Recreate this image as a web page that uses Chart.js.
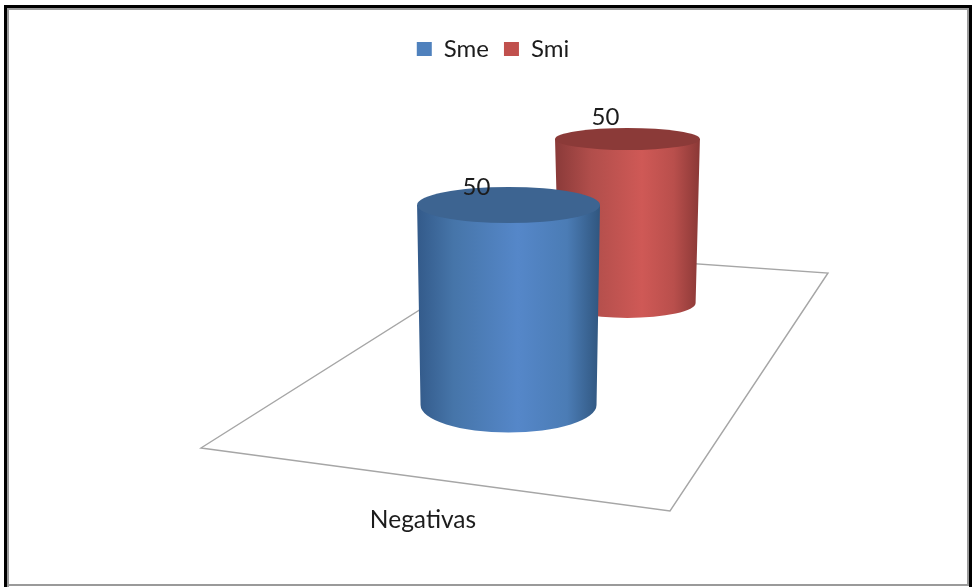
<!DOCTYPE html>
<html>
<head>
<meta charset="utf-8">
<title>Negativas</title>
<script src="https://cdn.jsdelivr.net/npm/chart.js@4/dist/chart.umd.min.js"></script>
<style>
    html, body { margin: 0; padding: 0; background: #fff; }
    #wrap { position: relative; width: 974px; height: 587px; }
</style>
</head>
<body>
<div id="wrap"><canvas id="cylinderChart" width="974" height="587"></canvas></div>
<script>
const categories = ['Negativas'];
const seriesNames = ['Sme', 'Smi'];
const smeValues = [50];
const smiValues = [50];

const FONT = 'Lato, "Open Sans", sans-serif';
const TEXT_COLOR = '#1c1c1c';

// Per-series look of the cylinders: the second one stands further back on the floor
const cylinderLooks = [
    {
        shiftX: 107, shiftY: 0, heightScale: 1,
        topRx: 1, bottomRx: 0.962, topRy: 18, bottomRy: 27.5,
        top: '#3d6491',
        side: [[0, '#335a8a'], [0.2, '#4675a9'], [0.55, '#5587c9'], [0.82, '#4b7cb5'], [1, '#30567f']],
        labelDx: -32, labelDy: -18
    },
    {
        shiftX: 43, shiftY: -102, heightScale: 0.82,
        topRx: 0.792, bottomRx: 0.745, topRy: 11, bottomRy: 15,
        top: '#8b3a38',
        side: [[0, '#8a3a39'], [0.25, '#b14e4b'], [0.6, '#cf5956'], [0.82, '#b94f4c'], [1, '#8a3836']],
        labelDx: -22, labelDy: -22
    }
];

// The flat floor the cylinders stand on
const floorCorners = [[201, 448], [670, 511], [828, 273], [513, 251]];

function cylinderGeometry(chart, datasetIndex) {
    const bar = chart.getDatasetMeta(datasetIndex).data[0];
    const look = cylinderLooks[datasetIndex];
    const cx = bar.x + look.shiftX;
    const baseY = bar.base + look.shiftY;
    const topY = baseY - (bar.base - bar.y) * look.heightScale;
    return {
        cx, baseY, topY, look,
        topRx: bar.width / 2 * look.topRx,
        bottomRx: bar.width / 2 * look.bottomRx
    };
}

const cylinderPlugin = {
    id: 'cylinders',

    beforeDraw(chart) {
        // Window-style frame around the whole chart
        const ctx = chart.ctx;
        ctx.save();
        ctx.fillStyle = '#000';
        ctx.fillRect(4, 5, 3, 582);
        ctx.fillRect(4, 5, 968, 3);
        ctx.fillRect(969, 5, 3, 582);
        ctx.fillStyle = '#9a9a9a';
        ctx.fillRect(7, 8, 2, 579);
        ctx.fillRect(7, 8, 962, 2);
        ctx.fillRect(967, 8, 2, 578);
        ctx.fillRect(7, 584, 962, 2);
        ctx.restore();
    },

    beforeDatasetsDraw(chart) {
        const ctx = chart.ctx;
        ctx.save();
        ctx.strokeStyle = '#a6a6a6';
        ctx.lineWidth = 1.4;
        ctx.beginPath();
        floorCorners.forEach(([x, y], i) => (i ? ctx.lineTo(x, y) : ctx.moveTo(x, y)));
        ctx.closePath();
        ctx.stroke();
        ctx.restore();
    },

    // Replaces the flat bar with a shaded cylinder
    beforeDatasetDraw(chart, args) {
        const ctx = chart.ctx;
        const g = cylinderGeometry(chart, args.index);
        const left = Math.min(g.cx - g.topRx, g.cx - g.bottomRx);
        const right = Math.max(g.cx + g.topRx, g.cx + g.bottomRx);

        const side = ctx.createLinearGradient(left, 0, right, 0);
        g.look.side.forEach(([stop, color]) => side.addColorStop(stop, color));

        ctx.save();
        ctx.fillStyle = side;
        ctx.beginPath();
        ctx.moveTo(g.cx - g.topRx, g.topY);
        ctx.lineTo(g.cx - g.bottomRx, g.baseY);
        ctx.ellipse(g.cx, g.baseY, g.bottomRx, g.look.bottomRy, 0, Math.PI, 0, true);
        ctx.lineTo(g.cx + g.topRx, g.topY);
        ctx.closePath();
        ctx.fill();

        ctx.fillStyle = g.look.top;
        ctx.beginPath();
        ctx.ellipse(g.cx, g.topY, g.topRx, g.look.topRy, 0, 0, Math.PI * 2);
        ctx.fill();
        ctx.restore();
        return false;
    },

    afterDatasetsDraw(chart) {
        const ctx = chart.ctx;
        ctx.save();
        ctx.font = '24px ' + FONT;
        ctx.fillStyle = TEXT_COLOR;
        ctx.textAlign = 'center';
        ctx.textBaseline = 'middle';
        chart.data.datasets.forEach((dataset, i) => {
            const g = cylinderGeometry(chart, i);
            ctx.fillText(String(dataset.data[0]), g.cx + g.look.labelDx, g.topY + g.look.labelDy);
        });
        ctx.restore();
    }
};

new Chart(document.getElementById('cylinderChart').getContext('2d'), {
    type: 'bar',
    data: {
        labels: categories,
        datasets: [
            { label: seriesNames[0], data: smeValues, backgroundColor: '#4f81bd', borderWidth: 0 },
            { label: seriesNames[1], data: smiValues, backgroundColor: '#c0504d', borderWidth: 0 }
        ]
    },
    options: {
        responsive: false,
        animation: false,
        layout: {
            padding: { left: 271, right: 259, top: 22, bottom: 0 }
        },
        datasets: {
            bar: { barPercentage: 1, categoryPercentage: 0.824 }
        },
        scales: {
            x: {
                // Keeps the category label well below the floor without pushing the bars up
                afterFit(scale) { scale.height = 182; },
                grid: { display: false },
                border: { display: false },
                ticks: {
                    color: TEXT_COLOR,
                    font: { family: FONT, size: 24.5 },
                    padding: 92,
                    labelOffset: -70
                }
            },
            y: {
                display: false,
                min: 0,
                max: 83.5
            }
        },
        plugins: {
            tooltip: { enabled: false },
            legend: {
                position: 'top',
                labels: {
                    color: TEXT_COLOR,
                    font: { family: FONT, size: 24 },
                    boxWidth: 15,
                    boxHeight: 14,
                    padding: 15
                }
            }
        }
    },
    plugins: [cylinderPlugin]
});
</script>
</body>
</html>
